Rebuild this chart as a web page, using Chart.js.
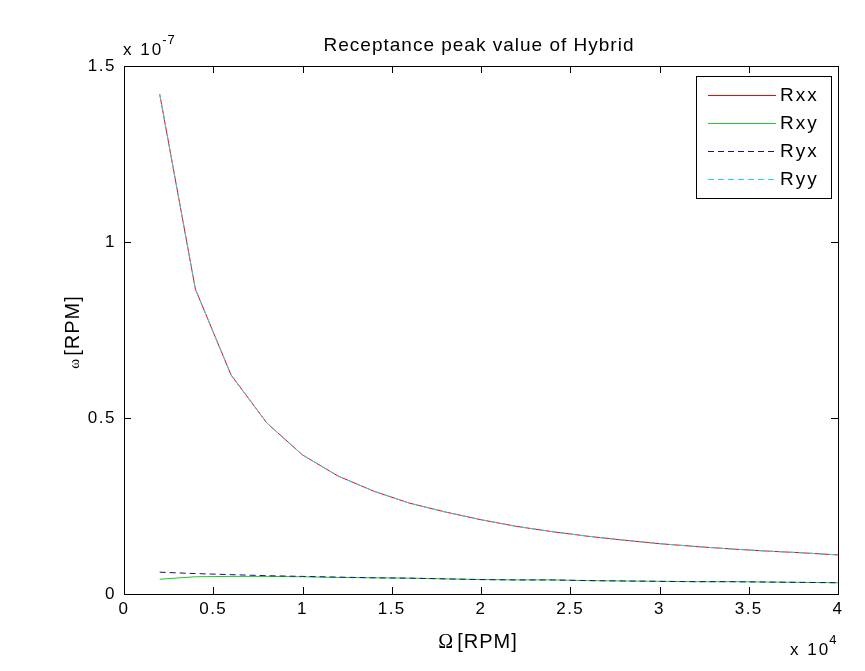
<!DOCTYPE html>
<html>
<head>
<meta charset="utf-8">
<script src="https://cdn.jsdelivr.net/npm/chart.js@4/dist/chart.umd.min.js"></script>
<style>
  html, body { margin: 0; padding: 0; background: #ffffff; }
  #wrap { width: 865px; height: 671px; }
</style>
</head>
<body>
<div id="wrap"><canvas id="c" width="865" height="671"></canvas></div>
<script>
// ---- data ----
const speedRPM = [2000, 4000, 6000, 8000, 10000, 12000, 14000, 16000, 18000, 20000,
                  22000, 24000, 26000, 28000, 30000, 32000, 34000, 36000, 38000, 40000];
const rxx = [1.42e-7, 0.866e-7, 0.622e-7, 0.486e-7, 0.395e-7, 0.335e-7, 0.292e-7, 0.258e-7, 0.233e-7, 0.211e-7,
             0.192e-7, 0.177e-7, 0.164e-7, 0.153e-7, 0.143e-7, 0.135e-7, 0.128e-7, 0.122e-7, 0.117e-7, 0.111e-7];
const rxy = [0.042e-7, 0.049e-7, 0.050e-7, 0.050e-7, 0.049e-7, 0.047e-7, 0.046e-7, 0.045e-7, 0.043e-7, 0.041e-7,
             0.040e-7, 0.040e-7, 0.038e-7, 0.037e-7, 0.036e-7, 0.035e-7, 0.035e-7, 0.034e-7, 0.033e-7, 0.032e-7];
const ryx = [0.062e-7, 0.058e-7, 0.055e-7, 0.052e-7, 0.050e-7, 0.048e-7, 0.046e-7, 0.045e-7, 0.043e-7, 0.041e-7,
             0.040e-7, 0.040e-7, 0.038e-7, 0.037e-7, 0.036e-7, 0.035e-7, 0.035e-7, 0.034e-7, 0.033e-7, 0.032e-7];
const ryy = [1.42e-7, 0.866e-7, 0.622e-7, 0.486e-7, 0.395e-7, 0.335e-7, 0.292e-7, 0.258e-7, 0.233e-7, 0.211e-7,
             0.192e-7, 0.177e-7, 0.164e-7, 0.153e-7, 0.143e-7, 0.135e-7, 0.128e-7, 0.122e-7, 0.117e-7, 0.111e-7];
const seriesNames = ['Rxx', 'Rxy', 'Ryx', 'Ryy'];
const xTickValues = [0, 5000, 10000, 15000, 20000, 25000, 30000, 35000, 40000];
const yTickValues = [0, 0.5e-7, 1.0e-7, 1.5e-7];
const xExponent = 4;
const yExponent = -7;
const titleText = 'Receptance peak value of Hybrid';
const xLabelSym = 'Ω';
const yLabelSym = 'ω';
const labelUnit = '[RPM]';

const FONT = '"Liberation Sans", Arial, sans-serif';
const SERIF = '"Liberation Serif", "Times New Roman", serif';
const colors = ['#ff0000', '#22c822', '#10108a', '#22d8f0'];
const dashes = [[], [], [6, 4], [6, 4]];

function pts(arr) { return speedRPM.map((x, i) => ({ x: x, y: arr[i] })); }
const allSeries = [rxx, rxy, ryx, ryy];

const datasets = allSeries.map((arr, i) => ({
  label: seriesNames[i],
  data: pts(arr),
  borderColor: colors[i],
  backgroundColor: colors[i],
  borderWidth: 1,
  borderDash: dashes[i],
  pointRadius: 0,
  tension: 0,
  fill: false,
  order: 3 - i
}));

function setLS(ctx, v) { if ('letterSpacing' in ctx) ctx.letterSpacing = v; }

const decor = {
  id: 'decor',
  beforeDraw(chart) { setLS(chart.ctx, '1.5px'); },
  afterDraw(chart) {
    const ctx = chart.ctx;
    const a = chart.chartArea;
    const xs = chart.scales.x, ys = chart.scales.y;
    ctx.save();
    // box
    ctx.strokeStyle = '#000';
    ctx.lineWidth = 1;
    ctx.strokeRect(Math.round(a.left) + 0.5, Math.round(a.top) + 0.5,
                   Math.round(a.right - a.left), Math.round(a.bottom - a.top));
    // inward ticks
    const tl = 7;
    ctx.beginPath();
    xTickValues.forEach(v => {
      const px = Math.round(xs.getPixelForValue(v)) + 0.5;
      ctx.moveTo(px, a.bottom); ctx.lineTo(px, a.bottom - tl);
      ctx.moveTo(px, a.top); ctx.lineTo(px, a.top + tl);
    });
    yTickValues.forEach(v => {
      const py = Math.round(ys.getPixelForValue(v)) + 0.5;
      ctx.moveTo(a.left, py); ctx.lineTo(a.left + tl, py);
      ctx.moveTo(a.right, py); ctx.lineTo(a.right - tl, py);
    });
    ctx.stroke();

    ctx.fillStyle = '#000';
    // title
    setLS(ctx, '1px');
    ctx.font = '19px ' + FONT;
    ctx.textAlign = 'center';
    ctx.textBaseline = 'alphabetic';
    ctx.fillText(titleText, (a.left + a.right) / 2 - 2, 51);

    // x axis label: serif symbol + sans unit
    setLS(ctx, '1px');
    ctx.textAlign = 'left';
    ctx.font = '20px ' + SERIF;
    const wsx = ctx.measureText(xLabelSym).width;
    ctx.font = '20px ' + FONT;
    const wux = ctx.measureText(labelUnit).width;
    let sx = (a.left + a.right) / 2 - (wsx + 3 + wux) / 2 - 3;
    ctx.font = '20px ' + SERIF;
    ctx.fillText(xLabelSym, sx, 648);
    ctx.font = '20px ' + FONT;
    ctx.fillText(labelUnit, sx + wsx + 3, 648);

    // y axis label (rotated)
    ctx.save();
    ctx.translate(79, (a.top + a.bottom) / 2 + 2);
    ctx.rotate(-Math.PI / 2);
    ctx.font = '15px ' + SERIF;
    const wsy = ctx.measureText(yLabelSym).width;
    ctx.font = '20px ' + FONT;
    const wuy = ctx.measureText(labelUnit).width;
    let sy = -(wsy + 2 + wuy) / 2;
    ctx.font = '15px ' + SERIF;
    ctx.fillText(yLabelSym, sy, 0);
    ctx.font = '20px ' + FONT;
    ctx.fillText(labelUnit, sy + wsy + 2, 0);
    ctx.restore();

    // exponent labels
    setLS(ctx, '2px');
    ctx.textAlign = 'left';
    ctx.font = '17px ' + FONT;
    ctx.fillText('x 10', 123, 55);
    let w = ctx.measureText('x 10').width;
    ctx.font = '13px ' + FONT;
    setLS(ctx, '1px');
    ctx.fillText(String(yExponent), 123 + w - 1, 44);
    setLS(ctx, '2px');
    ctx.font = '17px ' + FONT;
    ctx.fillText('x 10', 790, 655);
    w = ctx.measureText('x 10').width;
    ctx.font = '13px ' + FONT;
    ctx.fillText(String(xExponent), 790 + w - 1, 644);

    // legend
    const lx = 696.5, ly = 76.5, lw = 135, lh = 122;
    ctx.fillStyle = '#fff';
    ctx.fillRect(lx, ly, lw, lh);
    ctx.strokeStyle = '#000';
    ctx.lineWidth = 1;
    ctx.strokeRect(lx, ly, lw, lh);
    const rows = [95, 123, 151, 179];
    setLS(ctx, '2px');
    ctx.font = '19px ' + FONT;
    ctx.textBaseline = 'middle';
    seriesNames.forEach((n, i) => {
      ctx.save();
      ctx.beginPath();
      ctx.lineWidth = 1;
      ctx.strokeStyle = colors[i];
      ctx.setLineDash(dashes[i]);
      ctx.moveTo(708, rows[i] + 0.5);
      ctx.lineTo(776, rows[i] + 0.5);
      ctx.stroke();
      ctx.restore();
      ctx.fillStyle = '#000';
      ctx.fillText(n, 780, rows[i] + 1);
    });
    ctx.restore();
  }
};

new Chart(document.getElementById('c'), {
  type: 'line',
  data: { datasets: datasets },
  options: {
    responsive: false,
    animation: false,
    devicePixelRatio: 1,
    layout: { padding: { left: 0, right: 27, top: 66, bottom: 0 } },
    plugins: {
      legend: { display: false },
      title: { display: false },
      tooltip: { enabled: false }
    },
    scales: {
      x: {
        type: 'linear',
        min: 0, max: 40000,
        afterBuildTicks: s => { s.ticks = xTickValues.map(v => ({ value: v })); },
        afterFit: s => { s.height = 77; },
        grid: { display: false, drawTicks: false },
        border: { display: false },
        ticks: {
          padding: 5,
          color: '#000',
          font: { family: FONT, size: 17 },
          maxRotation: 0,
          callback: v => String(Math.round(v / Math.pow(10, xExponent) * 10) / 10)
        }
      },
      y: {
        type: 'linear',
        min: 0, max: 1.5e-7,
        afterBuildTicks: s => { s.ticks = yTickValues.map(v => ({ value: v })); },
        afterFit: s => { s.width = 124; },
        grid: { display: false, drawTicks: false },
        border: { display: false },
        ticks: {
          padding: 8,
          color: '#000',
          font: { family: FONT, size: 17 },
          callback: v => String(Math.round(v / Math.pow(10, yExponent) * 10) / 10)
        }
      }
    }
  },
  plugins: [decor]
});
</script>
</body>
</html>
